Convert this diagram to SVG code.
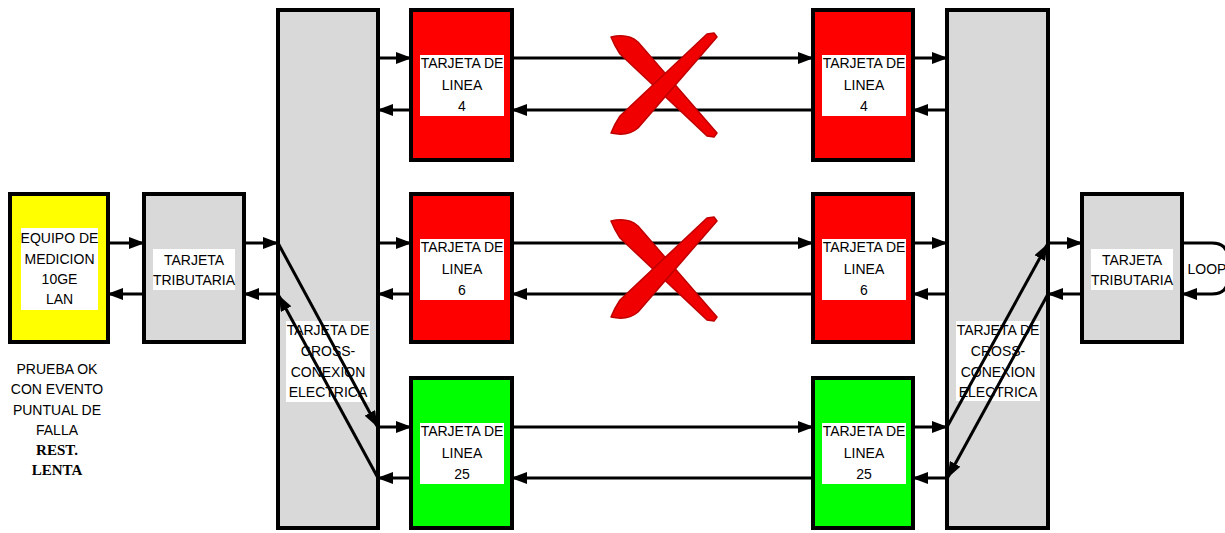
<svg xmlns="http://www.w3.org/2000/svg" width="1225" height="533" viewBox="0 0 1225 533">
<defs>
<style>
.box{stroke:#000;stroke-width:4}
.grey{fill:#d9d9d9}
.red{fill:#ff0000}
.green{fill:#00ff00}
.yellow{fill:#ffff00}
.lbl{fill:#fff}
.t{font-family:"Liberation Sans",Arial,sans-serif;font-size:14px;fill:#000;text-anchor:middle}
.b{font-family:"Liberation Serif","Times New Roman",serif;font-size:15px;font-weight:bold;fill:#000;text-anchor:middle}
.c{fill:none;stroke:#000;stroke-width:3}
.x{fill:#f00000;stroke:#c00000;stroke-width:1.5;stroke-linejoin:round}
</style>
<marker id="ah" markerUnits="userSpaceOnUse" markerWidth="16" markerHeight="12" refX="15" refY="6" orient="auto">
<path d="M0,0 L16,6 L0,12 Z" fill="#000"/>
</marker>
</defs>
<rect width="1225" height="533" fill="#fff"/>

<g id="equipo">
<rect class="box yellow" x="10" y="194" width="98" height="148"/>
<rect class="lbl" x="21" y="228" width="77" height="82"/>
<text class="t" x="59.5" y="243">EQUIPO DE</text>
<text class="t" x="59.5" y="264">MEDICION</text>
<text class="t" x="59.5" y="284">10GE</text>
<text class="t" x="59.5" y="304">LAN</text>
</g>

<g id="nota">
<text class="t" x="57" y="374">PRUEBA OK</text>
<text class="t" x="57" y="394">CON EVENTO</text>
<text class="t" x="57" y="415">PUNTUAL DE</text>
<text class="t" x="57" y="435">FALLA</text>
<text class="b" x="57" y="455">REST.</text>
<text class="b" x="57" y="475">LENTA</text>
</g>

<g id="trib-left">
<rect class="box grey" x="144" y="194" width="100" height="148"/>
<rect class="lbl" x="153" y="249" width="82" height="41"/>
<text class="t" x="194" y="265">TARJETA</text>
<text class="t" x="194" y="285">TRIBUTARIA</text>
</g>

<g id="cross-left">
<rect class="box grey" x="278" y="10" width="100" height="518"/>
<rect class="lbl" x="286" y="321" width="84" height="81"/>
<text class="t" x="328" y="335">TARJETA DE</text>
<text class="t" x="328" y="356">CROSS-</text>
<text class="t" x="328" y="377">CONEXION</text>
<text class="t" x="328" y="397">ELECTRICA</text>
</g>

<g id="linea4-left">
<rect class="box red" x="411" y="10" width="101" height="150"/>
<rect class="lbl" x="420" y="55" width="84" height="61"/>
<text class="t" x="462" y="68">TARJETA DE</text>
<text class="t" x="462" y="90">LINEA</text>
<text class="t" x="462" y="111">4</text>
</g>

<g id="linea6-left">
<rect class="box red" x="411" y="194" width="101" height="148"/>
<rect class="lbl" x="420" y="239" width="84" height="61"/>
<text class="t" x="462" y="252">TARJETA DE</text>
<text class="t" x="462" y="274">LINEA</text>
<text class="t" x="462" y="295">6</text>
</g>

<g id="linea25-left">
<rect class="box green" x="411" y="378" width="101" height="150"/>
<rect class="lbl" x="420" y="423" width="84" height="61"/>
<text class="t" x="462" y="436">TARJETA DE</text>
<text class="t" x="462" y="458">LINEA</text>
<text class="t" x="462" y="479">25</text>
</g>

<g id="linea4-right">
<rect class="box red" x="813" y="10" width="100" height="150"/>
<rect class="lbl" x="822" y="55" width="84" height="61"/>
<text class="t" x="864" y="68">TARJETA DE</text>
<text class="t" x="864" y="90">LINEA</text>
<text class="t" x="864" y="111">4</text>
</g>

<g id="linea6-right">
<rect class="box red" x="813" y="194" width="100" height="148"/>
<rect class="lbl" x="822" y="239" width="84" height="61"/>
<text class="t" x="864" y="252">TARJETA DE</text>
<text class="t" x="864" y="274">LINEA</text>
<text class="t" x="864" y="295">6</text>
</g>

<g id="linea25-right">
<rect class="box green" x="813" y="378" width="100" height="150"/>
<rect class="lbl" x="822" y="423" width="84" height="61"/>
<text class="t" x="864" y="436">TARJETA DE</text>
<text class="t" x="864" y="458">LINEA</text>
<text class="t" x="864" y="479">25</text>
</g>

<g id="cross-right">
<rect class="box grey" x="947" y="10" width="101" height="518"/>
<rect class="lbl" x="956" y="321" width="84" height="80"/>
<text class="t" x="998" y="335">TARJETA DE</text>
<text class="t" x="998" y="356">CROSS-</text>
<text class="t" x="998" y="377">CONEXION</text>
<text class="t" x="998" y="397">ELECTRICA</text>
</g>

<g id="trib-right">
<rect class="box grey" x="1082" y="194" width="100" height="148"/>
<rect class="lbl" x="1091" y="249" width="82" height="41"/>
<text class="t" x="1132" y="265">TARJETA</text>
<text class="t" x="1132" y="285">TRIBUTARIA</text>
</g>

<g id="connectors">
<path class="c" marker-end="url(#ah)" d="M108,243 H144"/>
<path class="c" marker-end="url(#ah)" d="M144,294 H108"/>
<path class="c" marker-end="url(#ah)" d="M244,243 H278"/>
<path class="c" marker-end="url(#ah)" d="M278,294 H244"/>
<path class="c" marker-end="url(#ah)" d="M378,58 H411"/>
<path class="c" marker-end="url(#ah)" d="M411,110 H378"/>
<path class="c" marker-end="url(#ah)" d="M378,243 H411"/>
<path class="c" marker-end="url(#ah)" d="M411,294 H378"/>
<path class="c" marker-end="url(#ah)" d="M378,427 H411"/>
<path class="c" marker-end="url(#ah)" d="M411,478 H378"/>
<path class="c" marker-end="url(#ah)" d="M278,243 L377,426"/>
<path class="c" marker-end="url(#ah)" d="M378,478 L279,296"/>

<path class="c" marker-end="url(#ah)" d="M512,58 H813"/>
<path class="c" marker-end="url(#ah)" d="M813,110 H512"/>
<path class="c" marker-end="url(#ah)" d="M512,243 H813"/>
<path class="c" marker-end="url(#ah)" d="M813,294 H512"/>
<path class="c" marker-end="url(#ah)" d="M512,427 H813"/>
<path class="c" marker-end="url(#ah)" d="M813,478 H512"/>

<path class="c" marker-end="url(#ah)" d="M913,58 H947"/>
<path class="c" marker-end="url(#ah)" d="M947,110 H913"/>
<path class="c" marker-end="url(#ah)" d="M913,243 H947"/>
<path class="c" marker-end="url(#ah)" d="M947,294 H913"/>
<path class="c" marker-end="url(#ah)" d="M913,427 H947"/>
<path class="c" marker-end="url(#ah)" d="M947,478 H913"/>
<path class="c" marker-end="url(#ah)" d="M947,427 L1047,245"/>
<path class="c" marker-end="url(#ah)" d="M1048,294 L948,477"/>
<path class="c" marker-end="url(#ah)" d="M1048,243 H1082"/>
<path class="c" marker-end="url(#ah)" d="M1082,294 H1048"/>
<path class="c" marker-end="url(#ah)" d="M1182,243 H1212 Q1228,243 1228,259 V278 Q1228,294 1212,294 H1182"/>
</g>

<g id="loop-label">
<text class="t" x="1207" y="274">LOOP</text>
</g>

<g id="falla-4">
<path class="x" d="M611,37 C620,35 630,35 638,42 L717,133 L714,137 L707,136 L620,54 C616,48 613,42 611,37 Z"/>
<path class="x" d="M611,133 C620,135 630,135 638,128 L717,37 L714,33 L707,34 L620,116 C616,122 613,128 611,133 Z"/>
</g>
<g id="falla-6">
<path class="x" d="M611,221 C620,219 630,219 638,226 L717,317 L714,321 L707,320 L620,238 C616,232 613,226 611,221 Z"/>
<path class="x" d="M611,317 C620,319 630,319 638,312 L717,221 L714,217 L707,218 L620,300 C616,306 613,312 611,317 Z"/>
</g>
</svg>
